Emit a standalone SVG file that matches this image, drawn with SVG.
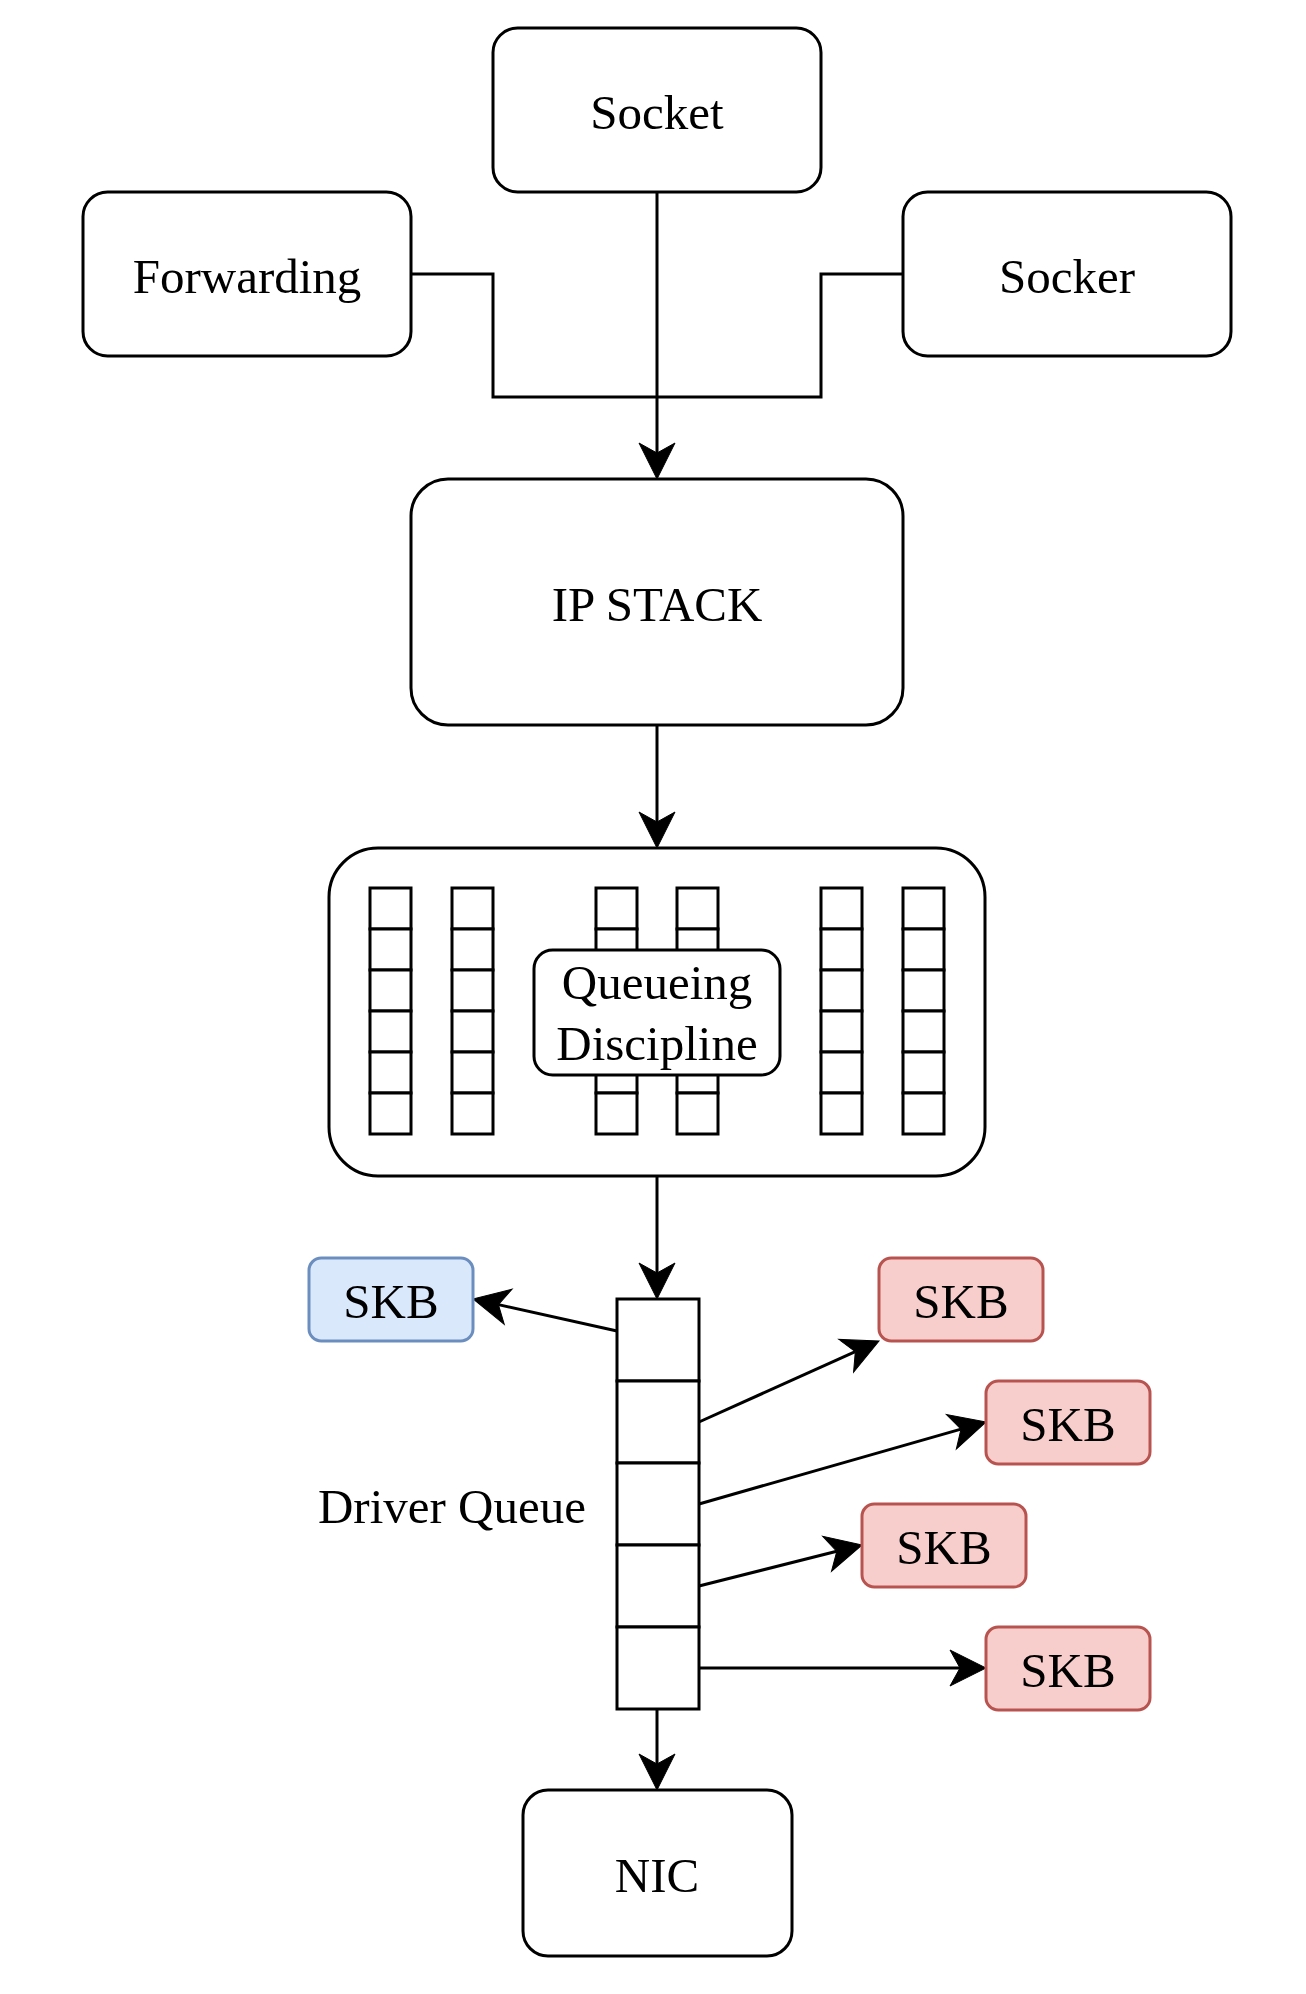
<svg xmlns="http://www.w3.org/2000/svg" width="1306" height="1994" viewBox="0 0 1306 1994">
<style>
.box{fill:#ffffff;stroke:#000000;stroke-width:3}
.blue{fill:#dae8fc;stroke:#6c8ebf;stroke-width:3}
.red{fill:#f8cecc;stroke:#b85450;stroke-width:3}
.cell{fill:#ffffff;stroke:#000000;stroke-width:3}
.lbl{font-family:"Liberation Serif","Times New Roman",serif;font-size:49px;fill:#000000;text-anchor:middle}
.edge{fill:none;stroke:#000000;stroke-width:3}
</style>
<defs>
<marker id="arr" markerUnits="userSpaceOnUse" viewBox="-12 -20 40 40" markerWidth="40" markerHeight="40" refX="0" refY="0" orient="auto" overflow="visible">
<path d="M26,0 L-10,-18 L0,0 L-10,18 Z" fill="#000000" stroke="#000000" stroke-width="1"/>
</marker>
</defs>
<rect width="1306" height="1994" fill="#ffffff"/>
<g id="connectors">
<polyline class="edge" points="411,274 493,274 493,397 821,397 821,274 903,274"/>
<line class="edge" x1="657" y1="192" x2="657" y2="453" marker-end="url(#arr)"/>
<line class="edge" x1="657" y1="725" x2="657" y2="822" marker-end="url(#arr)"/>
<line class="edge" x1="657" y1="1176" x2="657" y2="1273" marker-end="url(#arr)"/>
<line class="edge" x1="657" y1="1709" x2="657" y2="1764" marker-end="url(#arr)"/>
<line class="edge" x1="617" y1="1331" x2="498.4" y2="1304.6" marker-end="url(#arr)"/>
<line class="edge" x1="699" y1="1422" x2="855.3" y2="1351.7" marker-end="url(#arr)"/>
<line class="edge" x1="699" y1="1504" x2="961" y2="1429.1" marker-end="url(#arr)"/>
<line class="edge" x1="699" y1="1586" x2="836.8" y2="1551.3" marker-end="url(#arr)"/>
<line class="edge" x1="699" y1="1668" x2="960" y2="1668" marker-end="url(#arr)"/>
</g>
<g id="socket">
<rect class="box" x="493" y="28" width="328" height="164" rx="24.6"/>
<text class="lbl" x="657" y="129">Socket</text>
</g>
<g id="forwarding">
<rect class="box" x="83" y="192" width="328" height="164" rx="24.6"/>
<text class="lbl" x="247" y="293">Forwarding</text>
</g>
<g id="socker">
<rect class="box" x="903" y="192" width="328" height="164" rx="24.6"/>
<text class="lbl" x="1067" y="293">Socker</text>
</g>
<g id="ipstack">
<rect class="box" x="411" y="479" width="492" height="246" rx="37"/>
<text class="lbl" x="657" y="621">IP STACK</text>
</g>
<g id="qdisc">
<rect class="box" x="329" y="848" width="656" height="328" rx="49"/>
<g id="queues">
<rect class="cell" x="370" y="888" width="41" height="41"/><rect class="cell" x="370" y="929" width="41" height="41"/><rect class="cell" x="370" y="970" width="41" height="41"/><rect class="cell" x="370" y="1011" width="41" height="41"/><rect class="cell" x="370" y="1052" width="41" height="41"/><rect class="cell" x="370" y="1093" width="41" height="41"/>
<rect class="cell" x="452" y="888" width="41" height="41"/><rect class="cell" x="452" y="929" width="41" height="41"/><rect class="cell" x="452" y="970" width="41" height="41"/><rect class="cell" x="452" y="1011" width="41" height="41"/><rect class="cell" x="452" y="1052" width="41" height="41"/><rect class="cell" x="452" y="1093" width="41" height="41"/>
<rect class="cell" x="596" y="888" width="41" height="41"/><rect class="cell" x="596" y="929" width="41" height="41"/><rect class="cell" x="596" y="970" width="41" height="41"/><rect class="cell" x="596" y="1011" width="41" height="41"/><rect class="cell" x="596" y="1052" width="41" height="41"/><rect class="cell" x="596" y="1093" width="41" height="41"/>
<rect class="cell" x="677" y="888" width="41" height="41"/><rect class="cell" x="677" y="929" width="41" height="41"/><rect class="cell" x="677" y="970" width="41" height="41"/><rect class="cell" x="677" y="1011" width="41" height="41"/><rect class="cell" x="677" y="1052" width="41" height="41"/><rect class="cell" x="677" y="1093" width="41" height="41"/>
<rect class="cell" x="821" y="888" width="41" height="41"/><rect class="cell" x="821" y="929" width="41" height="41"/><rect class="cell" x="821" y="970" width="41" height="41"/><rect class="cell" x="821" y="1011" width="41" height="41"/><rect class="cell" x="821" y="1052" width="41" height="41"/><rect class="cell" x="821" y="1093" width="41" height="41"/>
<rect class="cell" x="903" y="888" width="41" height="41"/><rect class="cell" x="903" y="929" width="41" height="41"/><rect class="cell" x="903" y="970" width="41" height="41"/><rect class="cell" x="903" y="1011" width="41" height="41"/><rect class="cell" x="903" y="1052" width="41" height="41"/><rect class="cell" x="903" y="1093" width="41" height="41"/>
</g>
<g id="qdisc-label">
<rect class="box" x="534" y="950" width="246" height="125" rx="18.7"/>
<text class="lbl" x="657" y="999">Queueing</text>
<text class="lbl" x="657" y="1060">Discipline</text>
</g>
</g>
<g id="driverqueue">
<rect class="cell" x="617" y="1299" width="82" height="82"/>
<rect class="cell" x="617" y="1381" width="82" height="82"/>
<rect class="cell" x="617" y="1463" width="82" height="82"/>
<rect class="cell" x="617" y="1545" width="82" height="82"/>
<rect class="cell" x="617" y="1627" width="82" height="82"/>
</g>
<g id="driverqueue-label">
<text class="lbl" x="452" y="1523">Driver Queue</text>
</g>
<g id="skb-blue">
<rect class="blue" x="309" y="1258" width="164" height="83" rx="12.3"/>
<text class="lbl" x="391" y="1318">SKB</text>
</g>
<g id="skb-red1">
<rect class="red" x="879" y="1258" width="164" height="83" rx="12.3"/>
<text class="lbl" x="961" y="1318">SKB</text>
</g>
<g id="skb-red2">
<rect class="red" x="986" y="1381" width="164" height="83" rx="12.3"/>
<text class="lbl" x="1068" y="1441">SKB</text>
</g>
<g id="skb-red3">
<rect class="red" x="862" y="1504" width="164" height="83" rx="12.3"/>
<text class="lbl" x="944" y="1564">SKB</text>
</g>
<g id="skb-red4">
<rect class="red" x="986" y="1627" width="164" height="83" rx="12.3"/>
<text class="lbl" x="1068" y="1687">SKB</text>
</g>
<g id="nic">
<rect class="box" x="523" y="1790" width="269" height="166" rx="25"/>
<text class="lbl" x="657" y="1892">NIC</text>
</g>
</svg>
